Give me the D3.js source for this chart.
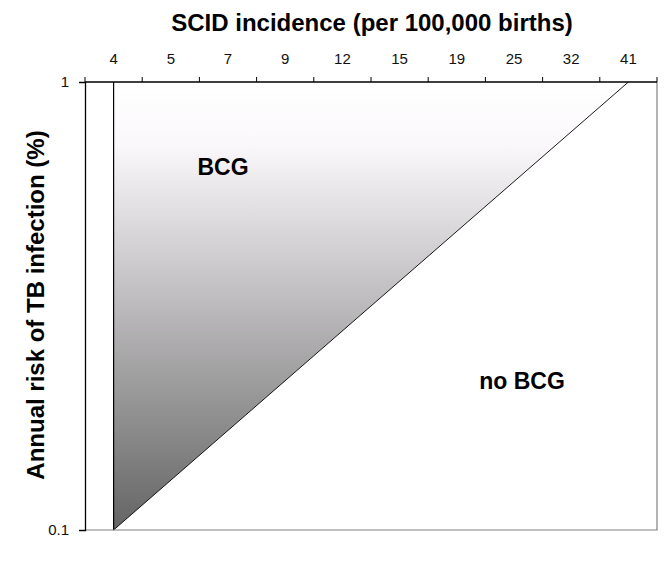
<!DOCTYPE html>
<html>
<head>
<meta charset="utf-8">
<script src="https://cdn.jsdelivr.net/npm/d3@7"></script>
<style>
  body { margin: 0; background: #fff; }
  #chart svg { display: block; font-family: Arial, "Liberation Sans", sans-serif; }
</style>
</head>
<body>
<div id="chart"></div>
<script>
// category labels on the top axis (SCID incidence per 100,000 births)
const incidence = ["4", "5", "7", "9", "12", "15", "19", "25", "32", "41"];
// y axis (annual risk of TB infection, %), log scale
const riskTicks = [0.1, 1];
// boundary between BCG and no BCG: from (4, 0.1) to (41, 1)
const boundaryX = ["4", "41"];
const boundaryY = [0.1, 1];

const W = 668, H = 574;
const margin = { top: 82, right: 11, bottom: 44, left: 85 };
const w = W - margin.left - margin.right;
const h = H - margin.top - margin.bottom;

function createScales() {
  const xScale = d3.scaleBand().domain(incidence).range([0, w]);
  const yScale = d3.scaleLog().domain([0.1, 1]).range([h, 0]);
  return { xScale, yScale };
}

function createSvg() {
  return d3
    .select("#chart")
    .append("svg")
    .attr("width", W)
    .attr("height", H);
}

function drawRegions(g, xScale, yScale) {
  const cx = (c) => xScale(c) + xScale.bandwidth() / 2;

  const grad = g.append("defs")
    .append("linearGradient")
    .attr("id", "bcgFill")
    .attr("gradientUnits", "userSpaceOnUse")
    .attr("x1", 0).attr("y1", yScale(1))
    .attr("x2", 0).attr("y2", yScale(0.1));
  grad.append("stop").attr("offset", "0%").attr("stop-color", "#ffffff");
  grad.append("stop").attr("offset", "14%").attr("stop-color", "#fbf8fb");
  grad.append("stop").attr("offset", "100%").attr("stop-color", "#646464");

  // shaded BCG region
  const pts = [
    [cx(boundaryX[0]), yScale(boundaryY[1])],
    [cx(boundaryX[1]), yScale(boundaryY[1])],
    [cx(boundaryX[0]), yScale(boundaryY[0])]
  ];
  g.append("path")
    .attr("d", d3.line()(pts) + "Z")
    .attr("fill", "url(#bcgFill)");

  // vertical line at 4
  g.append("line")
    .attr("x1", cx(boundaryX[0])).attr("x2", cx(boundaryX[0]))
    .attr("y1", yScale(boundaryY[0])).attr("y2", yScale(boundaryY[1]))
    .attr("stroke", "#000")
    .attr("stroke-width", 1.2);

  // diagonal boundary
  g.append("line")
    .attr("x1", cx(boundaryX[0])).attr("y1", yScale(boundaryY[0]))
    .attr("x2", cx(boundaryX[1])).attr("y2", yScale(boundaryY[1]))
    .attr("stroke", "#000")
    .attr("stroke-width", 0.9);
}

function addAxes(g, xScale, yScale) {
  // plot border (bottom and right in gray)
  g.append("path")
    .attr("d", `M0,${h}H${w}V0`)
    .attr("fill", "none")
    .attr("stroke", "#808080")
    .attr("stroke-width", 1.2);

  // top category axis: ticks at band edges, labels in the middle
  const xAxis = g.append("g").attr("class", "x-axis");
  const edges = incidence.map((c) => xScale(c)).concat([w]);
  xAxis.selectAll("line.tick")
    .data(edges)
    .enter()
    .append("line")
    .attr("x1", (d) => d).attr("x2", (d) => d)
    .attr("y1", 0).attr("y2", -5)
    .attr("stroke", "#000");
  xAxis.append("line")
    .attr("x1", 0).attr("x2", w)
    .attr("y1", 0).attr("y2", 0)
    .attr("stroke", "#000")
    .attr("stroke-width", 1.3);
  xAxis.selectAll("text")
    .data(incidence)
    .enter()
    .append("text")
    .attr("x", (d) => xScale(d) + xScale.bandwidth() / 2)
    .attr("y", -18)
    .attr("text-anchor", "middle")
    .style("font-size", "15px")
    .attr("fill", "#111")
    .text((d) => d);

  // left log axis
  const yAxis = d3.axisLeft(yScale)
    .tickValues(riskTicks)
    .tickFormat(d3.format("~g"))
    .tickSize(6)
    .tickPadding(10);
  const ya = g.append("g").call(yAxis);
  ya.select(".domain").attr("stroke-width", 1.3);
  ya.selectAll("text")
    .style("font-size", "15px")
    .style("font-family", "Arial, 'Liberation Sans', sans-serif")
    .attr("fill", "#111");
}

function addLabels(svg, g) {
  svg.append("text")
    .attr("x", 372)
    .attr("y", 31)
    .attr("text-anchor", "middle")
    .style("font-size", "24px")
    .style("font-weight", "bold")
    .text("SCID incidence (per 100,000 births)");

  svg.append("text")
    .attr("transform", "translate(44,305) rotate(-90)")
    .attr("text-anchor", "middle")
    .style("font-size", "24px")
    .style("font-weight", "bold")
    .text("Annual risk of TB infection (%)");

  g.append("text")
    .attr("x", 223 - margin.left)
    .attr("y", 175 - margin.top)
    .attr("text-anchor", "middle")
    .style("font-size", "23px")
    .style("font-weight", "bold")
    .text("BCG");

  g.append("text")
    .attr("x", 522 - margin.left)
    .attr("y", 389 - margin.top)
    .attr("text-anchor", "middle")
    .style("font-size", "23px")
    .style("font-weight", "bold")
    .text("no BCG");
}

const { xScale, yScale } = createScales();
const svg = createSvg();
const g = svg.append("g").attr("transform", `translate(${margin.left},${margin.top})`);
drawRegions(g, xScale, yScale);
addAxes(g, xScale, yScale);
addLabels(svg, g);
</script>
</body>
</html>
